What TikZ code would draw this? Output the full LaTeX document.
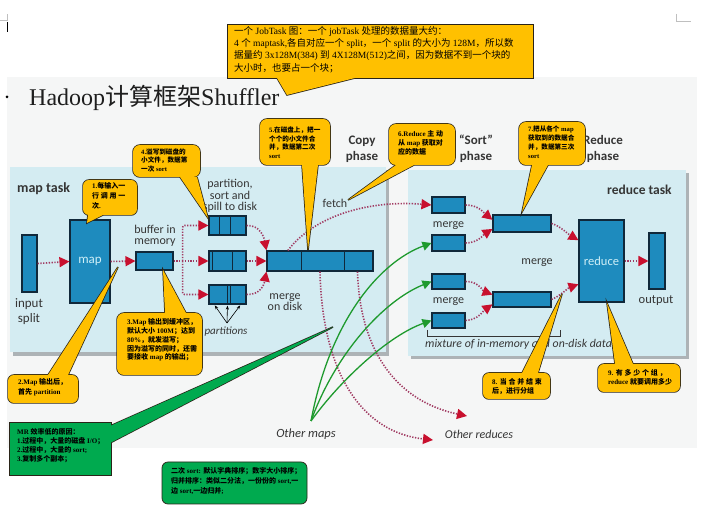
\documentclass[tikz,border=0pt]{standalone}
\usepackage{fontspec}
\setmainfont{Liberation Serif}
\newfontfamily\cjk{Noto Sans CJK SC}
\newfontfamily\lab{Carlito}
\usetikzlibrary{arrows.meta,calc}
\makeatletter
\newXeTeXintercharclass\CJKcls
\def\setcjkrange#1#2{\count@=#1\relax
  \loop\XeTeXcharclass\count@=\CJKcls
  \ifnum\count@<#2\advance\count@\@ne\repeat}
\setcjkrange{"3000}{"303F}
\setcjkrange{"4E00}{"9FFF}
\setcjkrange{"FF00}{"FFEF}
\makeatother
\XeTeXinterchartoks 0 \CJKcls = {\cjk}
\XeTeXinterchartoks 4095 \CJKcls = {\cjk}
\XeTeXinterchartoks \CJKcls 0 = {\rmfamily}
\XeTeXinterchartoks \CJKcls 4095 = {\rmfamily}
\XeTeXinterchartokenstate=1

\definecolor{ycol}{HTML}{FFC000}
\definecolor{gcol}{HTML}{00AA4F}
\definecolor{cline}{HTML}{2A2418}
\definecolor{panel}{HTML}{D4ECF2}
\definecolor{boxc}{HTML}{1E8BBE}
\definecolor{boxl}{HTML}{10283A}
\definecolor{dotc}{HTML}{A03A62}
\definecolor{arr}{HTML}{C8102E}
\definecolor{garr}{HTML}{1E9A2E}
\definecolor{labc}{HTML}{353535}
\definecolor{slide}{HTML}{F5F6F6}
\definecolor{shad}{HTML}{ADB3B6}
\definecolor{mtext}{HTML}{CFEFF7}
\definecolor{titlec}{HTML}{1E1E1E}

\newcommand\calloutshape[5]{%
  \draw[line width=1.5pt, draw=cline, #2] #3 rectangle #4;
  \draw[line width=1.5pt, draw=cline, line join=miter] #5;
  \fill[#1, #2] #3 rectangle #4;
  \fill[#1] #5 -- cycle;
}
\newcommand\divider[2]{\draw[boxl, line width=1.1pt]
  ($(#1.north west)!#2!(#1.north east)$) -- ($(#1.south west)!#2!(#1.south east)$);}

\begin{document}
\begin{tikzpicture}[x=1pt,y=-1pt,
  boxn/.style={draw=boxl, fill=boxc, line width=1.1pt, inner sep=0},
  lbl/.style={font=\lab\fontsize{12}{11.5}\selectfont, text=labc, align=center, inner sep=0},
  hlbl/.style={font=\lab\bfseries\fontsize{13}{16}\selectfont, text=labc, align=center, inner sep=0},
  ilbl/.style={font=\lab\itshape\fontsize{12}{12}\selectfont, text=labc, inner sep=0},
  dotarr/.style={dotc, line width=1.6pt, dash pattern=on 1.3pt off 1.5pt,
     -{Triangle[length=10pt,width=10pt,color=arr]}},
  garrow/.style={garr, line width=1.3pt, -{Triangle[length=9pt,width=9pt]}},
  parr/.style={black, line width=0.6pt, -{Stealth[length=4pt,width=3pt]}, shorten >=1pt},
  ctext/.style={font=\bfseries\fontsize{7}{#1}\selectfont, text=black, align=left,
     anchor=north west, inner sep=0},
  ctext/.default=9]
\useasboundingbox (0,0) rectangle (726,518);
\fill[white] (0,0) rectangle (726,518);
\fill[slide] (7,77) rectangle (697,448);
% page marks
\draw[gray!50, line width=0.6pt] (0,20) -- (7,20) -- (7,14);
\draw[gray!50, line width=0.6pt] (676,14) -- (676,21) -- (691,21);
\draw[black, line width=0.8pt] (7,22) -- (7,32);
\fill[black] (7,97) circle (1.5);

% title
\node[anchor=base west, font=\fontsize{24}{24}\selectfont, text=titlec, inner sep=0] (title) at (29,106) {Hadoop计算框架Shuffler};

% panels
\fill[shad] (13,170) rectangle (389,356);
\fill[panel] (10,167) rectangle (386,352);
\fill[shad] (411,173) rectangle (689,359);
\fill[panel] (408,170) rectangle (686,356);

% headings
\node[hlbl, font=\lab\bfseries\fontsize{14}{14}\selectfont, anchor=west] (maptask) at (17,189) {map task};
\node[hlbl, font=\lab\bfseries\fontsize{13.5}{14}\selectfont, anchor=west] (redtask) at (607,190) {reduce task};
\node[hlbl] (copyph) at (362,149) {Copy\\phase};
\node[hlbl] (sortph) at (476,149) {“Sort”\\phase};
\node[hlbl] (redph) at (603,149) {Reduce\\phase};

% map side boxes
\node[boxn, minimum width=15, minimum height=57] (insplit) at (29.5,263.5) {};
\node[boxn, minimum width=40, minimum height=83, font=\lab\fontsize{13}{13}\selectfont, text=mtext] (map) at (90,261.5) {map};
\node[boxn, minimum width=37, minimum height=18] (buf) at (154.5,261) {};
\node[boxn, minimum width=37, minimum height=19] (p1) at (227.5,225.5) {};
\node[boxn, minimum width=37, minimum height=20] (p2) at (227.5,261) {};
\node[boxn, minimum width=37, minimum height=19] (p3) at (227.5,294.5) {};
\node[boxn, minimum width=106, minimum height=20] (mbar) at (320,261) {};
\divider{p1}{0.30}\divider{p1}{0.57}
\divider{p2}{0.11}\divider{p2}{0.62}
\divider{p3}{0.49}\divider{p3}{0.59}
\divider{mbar}{0.33}\divider{mbar}{0.73}

% map side labels
\node[lbl, font=\lab\fontsize{13}{14.5}\selectfont] (insplitl) at (29,311.5) {input\\split};
\node[lbl] (bufl) at (155,236) {buffer in\\memory};
\node[lbl] (partl) at (230,196) {partition,\\sort and\\spill to disk};
\node[lbl] (mergedl) at (285,302) {merge\\on disk};
\node[lbl] (fetchl) at (335,203) {fetch};
\node[ilbl, font=\lab\itshape\fontsize{11}{11}\selectfont] (partsl) at (226,332) {partitions};

% reduce side boxes
\node[boxn, minimum width=33, minimum height=16] (r1) at (448.5,205) {};
\node[boxn, minimum width=33, minimum height=16] (r2) at (448.5,243) {};
\node[boxn, minimum width=33, minimum height=15] (r3) at (448.5,281.5) {};
\node[boxn, minimum width=33, minimum height=15] (r4) at (448.5,320.5) {};
\node[boxn, minimum width=58, minimum height=17] (bm1) at (522,223.5) {};
\node[boxn, minimum width=58, minimum height=15] (bm2) at (522,299.5) {};
\node[boxn, minimum width=45, minimum height=82, font=\lab\fontsize{12.5}{13}\selectfont, text=mtext] (red) at (601.5,261) {reduce};
\node[boxn, minimum width=16, minimum height=56] (out) at (657,261) {};

% reduce side labels
\node[lbl] (mg1) at (448.5,226) {merge};
\node[lbl] (mg2) at (448.5,302) {merge};
\node[lbl] (mg3) at (537,263) {merge};
\node[lbl, font=\lab\fontsize{12.5}{13}\selectfont] (outl) at (656,301) {output};
\draw[labc, line width=0.7pt] (427,330) -- (427,336) -- (560,336) -- (560,330);
\node[ilbl, font=\lab\itshape\fontsize{11.8}{11}\selectfont, anchor=west] (mixl) at (425,344) {mixture of in-memory and on-disk data};
\node[ilbl, font=\lab\itshape\fontsize{12.5}{12}\selectfont] (omaps) at (306,434) {Other maps};
\node[ilbl] (ored) at (479,434) {Other reduces};
\coordinate (gapex) at (311,421);
\coordinate (oredA) at (433,440);
\coordinate (oredB) at (467,416);
\coordinate (partapex) at (227,323);
\coordinate (bsplit) at ($(buf.east)+(9,0)$);

% map side arrows
\draw[dotarr] (insplit.east) -- (map.west);
\draw[dotarr] (map.east) -- (buf.west);
\draw[dotarr] (buf.east) -- (p2.west);
\draw[dotarr, rounded corners=2] (bsplit) |- (p1.west);
\draw[dotarr, rounded corners=2] (bsplit) |- (p3.west);
\draw[dotarr] (p1.east) .. controls (260,225) and (264,237) .. (mbar.north west);
\draw[dotarr] (p2.east) -- (mbar.west);
\draw[dotarr] (p3.east) .. controls (260,295) and (264,285) .. (mbar.south west);
\draw[parr] (partapex) -- ($(p3.south west)!0.15!(p3.south east)$);
\draw[parr] (partapex) -- ($(p3.south west)!0.5!(p3.south east)$);
\draw[parr] (partapex) -- ($(p3.south west)!0.85!(p3.south east)$);

% fetch & other reduces
\draw[dotarr] ($(mbar.north west)!0.2!(mbar.north east)$) .. controls (315,215) and (370,200) .. (r1.west);
\draw[dotarr] ($(mbar.south west)!0.5!(mbar.south east)$) .. controls (322,370) and (360,432) .. (oredA);
\draw[dotarr] ($(mbar.south west)!0.85!(mbar.south east)$) .. controls (360,355) and (400,402) .. (oredB);

% reduce side arrows
\draw[dotarr] (r1.east) .. controls (478,205) and (483,212) .. ($(bm1.north west)!0.3!(bm1.south west)$);
\draw[dotarr] (r2.east) .. controls (478,243) and (483,235) .. ($(bm1.north west)!0.8!(bm1.south west)$);
\draw[dotarr] (r3.east) .. controls (478,281) and (483,291) .. ($(bm2.north west)!0.2!(bm2.south west)$);
\draw[dotarr] (r4.east) .. controls (478,320) and (483,311) .. ($(bm2.north west)!0.8!(bm2.south west)$);
\draw[dotarr] (bm1.east) .. controls (560,226) and (568,234) .. ($(red.north west)!0.25!(red.south west)$);
\draw[dotarr] (bm2.east) .. controls (560,296) and (568,288) .. ($(red.north west)!0.78!(red.south west)$);
\draw[dotarr] (red.east) -- (out.west);

% other maps (green)
\draw[garrow] (gapex) .. controls (330,320) and (380,262) .. (r2.west);
\draw[garrow] (gapex) .. controls (336,352) and (385,300) .. (r3.west);
\draw[garrow] (gapex) .. controls (342,378) and (390,335) .. (r4.west);

% callouts
\calloutshape{ycol}{rounded corners=6}{(83,180)}{(137,215)}{(88,215)--(87,223)--(103,215)}
\node[ctext=10] (c1) at (92,182.5) {1.每输入一\\行 调 用 一\\次.};
\calloutshape{ycol}{rounded corners=6}{(8,375)}{(78,403)}{(48,375)--(118,267)--(68,375)}
\node[ctext=10] (c2) at (18,378.5) {2.Map 输出后，\\首先 partition};
\calloutshape{ycol}{rounded corners=7}{(117,313)}{(202,375)}{(165,313)--(163,270)--(186,313)}
\node[ctext=8.8] (c3) at (127,318.5) {3.Map 输出到缓冲区，\\默认大小 100M；达到\\80\%，就发溢写；\\因为溢写的同时，还需\\要接收 map 的输出；};
\calloutshape{ycol}{rounded corners=7}{(133,145)}{(200,177)}{(180,177)--(208,218)--(197,177)}
\node[ctext=8.3, font=\bfseries\fontsize{6.6}{8.3}\selectfont] (c4) at (141,148.7) {4.溢写到磁盘的\\小文件，数据第\\一次 sort};
\calloutshape{ycol}{rounded corners=7}{(260,119)}{(330,165)}{(302,165)--(308,250)--(318,165)}
\node[ctext=8.7, font=\bfseries\fontsize{6.6}{8.7}\selectfont] (c5) at (269,126.7) {5.在磁盘上，把一\\个个的小文件合\\并，数据第二次\\sort};
\calloutshape{ycol}{rounded corners=7}{(389,124)}{(455,165)}{(396,165)--(348,200)--(414,165)}
\node[ctext=9] (c6) at (398,130.5) {6.Reduce 主 动\\从 map 获取对\\应的数据};
\calloutshape{ycol}{rounded corners=7}{(519,122)}{(585,165)}{(532,165)--(522,212)--(548,165)}
\node[ctext=9, font=\bfseries\fontsize{6.6}{9}\selectfont] (c7) at (528,125.5) {7.把从各个 map\\获取到的数据合\\并，数据第三次\\sort};
\calloutshape{ycol}{rounded corners=6}{(483,373)}{(550,399)}{(522,373)--(562,294)--(538,373)}
\node[ctext=9] (c8) at (492,378.5) {8. 当 合 并 结 束\\后，进行分组};
\calloutshape{ycol}{rounded corners=6}{(598,364)}{(680,392)}{(615,364)--(607,303)--(633,364)}
\node[ctext=8.5] (c9) at (608,369.5) {9. 有 多 少 个 组 ，\\reduce 就要调用多少};
\calloutshape{gcol}{sharp corners}{(10,423)}{(111,475)}{(110,426)--(333,327)--(110,443)}
\node[ctext=9] (g1) at (17,428.5) {MR 效率低的原因：\\1.过程中，大量的磁盘 I/O；\\2.过程中，大量的 sort;\\3.复制多个副本；};
\draw[line width=0.75pt, draw=cline, fill=gcol, rounded corners=6] (162,462) rectangle (307,504);
\node[ctext=9.7] (g2) at (171,467.5) {二次 sort: 默认字典排序；数字大小排序；\\归并排序：类似二分法，一份份的 sort,一\\边 sort,一边归并;};
\calloutshape{ycol}{sharp corners}{(228,25)}{(533,78)}{(277,78)--(287,95)--(355,78)}
\node[ctext=12.3, font=\fontsize{9.5}{12.3}\selectfont] (topc) at (234,26) {一个 JobTask 图：一个 jobTask 处理的数据量大约：\\4 个 maptask,各自对应一个 split，一个 split 的大小为 128M，所以数\\据量约 3x128M(384) 到 4X128M(512)之间，因为数据不到一个块的\\大小时，也要占一个块；};
\end{tikzpicture}
\end{document}
